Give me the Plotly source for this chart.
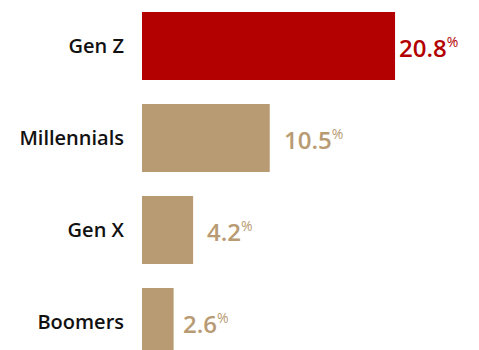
import plotly.graph_objects as go

# Share of each generation (percent)
generations = ["Gen Z", "Millennials", "Gen X", "Boomers"]
shares = [20.8, 10.5, 4.2, 2.6]

RED = "#B30000"
TAN = "#B89B73"
colors = [RED, TAN, TAN, TAN]
label_gap = [2, 12, 12, 7]  # px between bar end and its value label

FONT = "Open Sans"

fig = go.Figure(
    go.Bar(
        y=generations,
        x=shares,
        orientation="h",
        marker=dict(color=colors, line=dict(width=0)),
        hoverinfo="skip",
    )
)

for g, v, c, gap in zip(generations, shares, colors, label_gap):
    fig.add_annotation(
        x=v, y=g, xref="x", yref="y",
        text=f"{v:.1f}<sup><span style='font-size:14px;font-weight:400'>%</span></sup>",
        showarrow=False, xanchor="left", yanchor="middle",
        xshift=gap, yshift=-1,
        font=dict(family=FONT, size=24, color=c, weight=600),
    )

fig.update_layout(
    width=479, height=350,
    margin=dict(l=142, r=0, t=0, b=0),
    paper_bgcolor="white", plot_bgcolor="white",
    bargap=0.26,
    showlegend=False,
    xaxis=dict(range=[0, 27.7], visible=False, fixedrange=True),
    yaxis=dict(
        type="category",
        categoryorder="array", categoryarray=generations,
        range=[3.304, -0.5],
        showgrid=False, zeroline=False, showline=False,
        ticks="", ticklabelstandoff=17,
        tickfont=dict(family=FONT, size=20, color="#111111", weight=600),
        fixedrange=True,
    ),
)

fig.write_html("out.html", config={"displayModeBar": False})
